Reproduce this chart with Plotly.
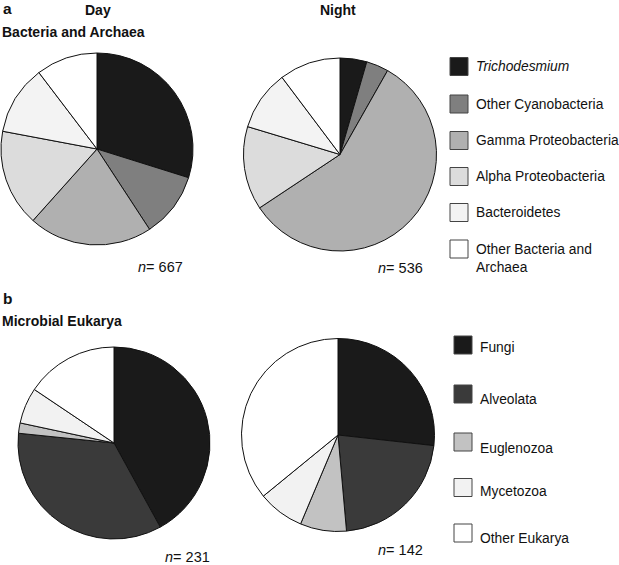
import plotly.graph_objects as go

W, H = 619, 565

# ---- data ----
bact_labels = ["Trichodesmium", "Other Cyanobacteria", "Gamma Proteobacteria",
               "Alpha Proteobacteria", "Bacteroidetes", "Other Bacteria and Archaea"]
bact_day = [199, 73, 139, 109, 78, 69]      # n = 667
bact_night = [24, 20, 308, 75, 54, 55]      # n = 536
bact_colors = ["#1a1a1a", "#7f7f7f", "#b0b0b0", "#dcdcdc", "#f3f3f3", "#ffffff"]

euk_labels = ["Fungi", "Alveolata", "Euglenozoa", "Mycetozoa", "Other Eukarya"]
euk_day = [97, 80, 4, 14, 36]               # n = 231
euk_night = [38, 31, 11, 11, 51]            # n = 142
euk_colors = ["#1a1a1a", "#3a3a3a", "#c2c2c2", "#f2f2f2", "#ffffff"]

n_bact = [sum(bact_day), sum(bact_night)]
n_euk = [sum(euk_day), sum(euk_night)]

FONT = "Liberation Sans, Arial, sans-serif"


def px_x(x):
    return x / W


def px_y(y):
    return 1 - y / H


def dom(cx, cy, r):
    return dict(x=[px_x(cx - r), px_x(cx + r)], y=[px_y(cy + r), px_y(cy - r)])


fig = go.Figure()

pies = [
    (bact_labels, bact_day, bact_colors, (97, 149, 96)),
    (bact_labels, bact_night, bact_colors, (340, 154.5, 96.5)),
    (euk_labels, euk_day, euk_colors, (114, 443, 96)),
    (euk_labels, euk_night, euk_colors, (338, 435, 96.5)),
]
for labels, vals, cols, (cx, cy, r) in pies:
    fig.add_trace(go.Pie(
        labels=labels, values=vals, sort=False, direction="clockwise", rotation=0,
        marker=dict(colors=cols, line=dict(color="#111111", width=1)),
        textinfo="none", hoverinfo="label+value+percent",
        domain=dom(cx, cy, r), showlegend=False,
    ))

annotations = []
shapes = []


def text(x, y, s, size=13.8, bold=False, xanchor="left", yanchor="middle"):
    if bold:
        s = f"<b>{s}</b>"
    annotations.append(dict(x=px_x(x), y=px_y(y), xref="paper", yref="paper",
                            text=s, showarrow=False, xanchor=xanchor, yanchor=yanchor,
                            font=dict(family=FONT, size=size, color="#111111"),
                            align="left", borderpad=0))


# panel titles
text(2, 8, "a", size=15.5, bold=True)
text(98, 10, "Day", size=14, bold=True, xanchor="center")
text(338, 10, "Night", size=14, bold=True, xanchor="center")
text(1, 32, "Bacteria and Archaea", size=14, bold=True)
text(2, 298, "b", size=15.5, bold=True)
text(1, 321, "Microbial Eukarya", size=14, bold=True)

# sample sizes
text(160, 267, f"<i>n</i>= {n_bact[0]}", size=14.5, xanchor="center")
text(400, 268, f"<i>n</i>= {n_bact[1]}", size=14.5, xanchor="center")
text(187, 557, f"<i>n</i>= {n_euk[0]}", size=14.5, xanchor="center")
text(400, 550, f"<i>n</i>= {n_euk[1]}", size=14.5, xanchor="center")


def swatch(x0, yc, size, color):
    shapes.append(dict(type="rect", xref="paper", yref="paper",
                       x0=px_x(x0), x1=px_x(x0 + size),
                       y0=px_y(yc + size / 2), y1=px_y(yc - size / 2),
                       fillcolor=color, line=dict(color="#444444", width=1)))


# top legend
top_y = [66.5, 104, 140.5, 176.5, 212.5, 249]
for lab, col, yc in zip(bact_labels, bact_colors, top_y):
    swatch(450, yc, 18, col)
    if lab == "Trichodesmium":
        s = "<i>Trichodesmium</i>"
    elif lab == "Other Bacteria and Archaea":
        s = "Other Bacteria and<br>Archaea"
    else:
        s = lab
    if "<br>" in s:
        text(475, yc - 8, s, yanchor="top")
    else:
        text(475, yc, s)

# bottom legend
bot_sq = [345, 394, 442, 487.5, 533]
bot_tx = [347.5, 399, 448, 491.5, 538]
for lab, col, ys, yt in zip(euk_labels, euk_colors, bot_sq, bot_tx):
    swatch(454, ys, 18, col)
    text(479, yt, lab)

fig.update_layout(
    width=W, height=H,
    margin=dict(l=0, r=0, t=0, b=0),
    paper_bgcolor="white", plot_bgcolor="white",
    annotations=annotations, shapes=shapes,
    font=dict(family=FONT),
)

fig.write_html("out.html", config={"displayModeBar": False},
               post_script="document.body.style.margin='0px';")
